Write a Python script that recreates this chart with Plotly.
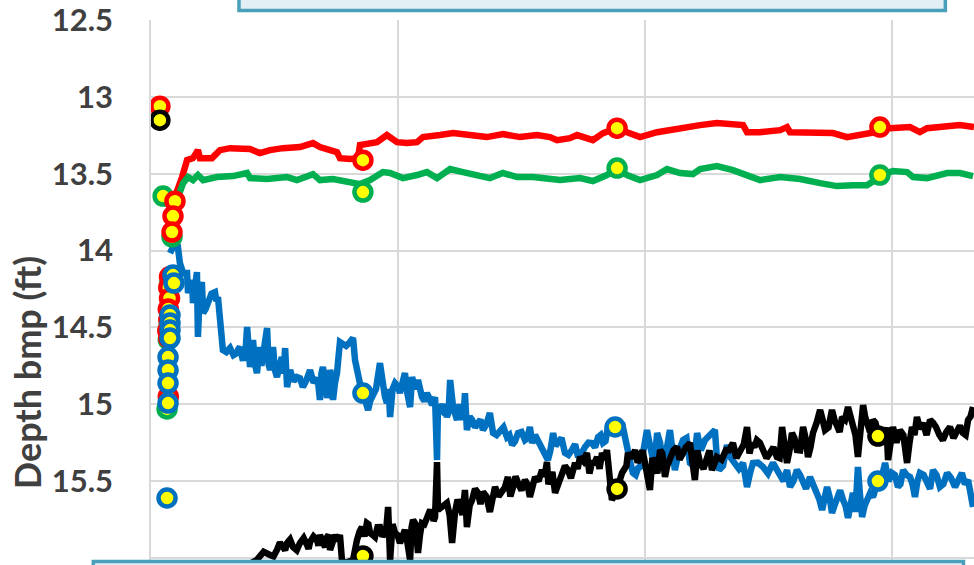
import plotly.graph_objects as go

# ---- depth readings (ft below measuring point) versus elapsed time (days) ----
red_x = [0.085, 0.101, 0.126, 0.146, 0.170, 0.190, 0.198, 0.247, 0.279, 0.320, 0.401, 0.441, 0.482,
         0.534, 0.603, 0.656, 0.684, 0.725, 0.753, 0.765, 0.806, 0.838, 0.846, 0.915, 0.955, 0.996,
         1.036, 1.077, 1.101, 1.170, 1.223, 1.291, 1.360, 1.425, 1.494, 1.563, 1.615, 1.644, 1.696,
         1.725, 1.789, 1.830, 1.887, 1.927, 1.980, 2.049, 2.089, 2.170, 2.223, 2.291, 2.356, 2.397,
         2.413, 2.466, 2.547, 2.575, 2.587, 2.668, 2.761, 2.818, 2.870, 2.931, 2.951, 2.992, 3.073,
         3.113, 3.142, 3.223, 3.275, 3.332]
red_y = [13.704, 13.639, 13.521, 13.411, 13.398, 13.346, 13.398, 13.398, 13.346, 13.333, 13.339, 13.365,
         13.346, 13.333, 13.326, 13.300, 13.326, 13.346, 13.359, 13.398, 13.404, 13.398, 13.313, 13.294,
         13.248, 13.294, 13.300, 13.294, 13.261, 13.248, 13.235, 13.248, 13.261, 13.242, 13.261, 13.248,
         13.261, 13.281, 13.268, 13.248, 13.281, 13.235, 13.203, 13.229, 13.261, 13.229, 13.216, 13.196,
         13.183, 13.170, 13.183, 13.183, 13.229, 13.229, 13.216, 13.196, 13.229, 13.229, 13.235, 13.261,
         13.248, 13.229, 13.196, 13.203, 13.196, 13.229, 13.203, 13.196, 13.183, 13.196]

green_x = [0.085, 0.105, 0.130, 0.150, 0.170, 0.190, 0.211, 0.267, 0.332, 0.389, 0.401, 0.470, 0.551,
           0.591, 0.656, 0.684, 0.737, 0.806, 0.846, 0.887, 0.939, 0.968, 1.020, 1.077, 1.117, 1.158,
           1.211, 1.263, 1.320, 1.372, 1.425, 1.482, 1.547, 1.603, 1.656, 1.737, 1.789, 1.846, 1.887,
           1.927, 1.980, 2.049, 2.089, 2.142, 2.194, 2.223, 2.291, 2.356, 2.425, 2.466, 2.547, 2.628,
           2.709, 2.777, 2.842, 2.899, 2.931, 2.951, 3.004, 3.061, 3.085, 3.142, 3.223, 3.275, 3.328]
green_y = [13.900, 13.671, 13.561, 13.521, 13.541, 13.508, 13.541, 13.521, 13.515, 13.495, 13.528, 13.534,
           13.521, 13.541, 13.502, 13.541, 13.534, 13.561, 13.567, 13.541, 13.489, 13.495, 13.528, 13.508,
           13.489, 13.528, 13.469, 13.489, 13.508, 13.528, 13.495, 13.521, 13.521, 13.528, 13.541, 13.528,
           13.547, 13.508, 13.463, 13.508, 13.541, 13.508, 13.469, 13.495, 13.502, 13.469, 13.450, 13.476,
           13.521, 13.541, 13.521, 13.534, 13.561, 13.580, 13.574, 13.574, 13.541, 13.508, 13.482, 13.489,
           13.521, 13.528, 13.495, 13.495, 13.515]

blue_x = [0.077, 0.089, 0.109, 0.117, 0.130, 0.146, 0.150, 0.166, 0.170, 0.186, 0.190, 0.198, 0.206,
          0.211, 0.231, 0.259, 0.271, 0.287, 0.291, 0.320, 0.348, 0.360, 0.381, 0.389, 0.401, 0.413,
          0.429, 0.441, 0.453, 0.470, 0.482, 0.494, 0.510, 0.530, 0.543, 0.551, 0.563, 0.591, 0.615,
          0.644, 0.672, 0.684, 0.696, 0.713, 0.725, 0.737, 0.753, 0.765, 0.777, 0.806, 0.818, 0.826,
          0.838, 0.858, 0.879, 0.895, 0.927, 0.939, 0.955, 0.968, 0.988, 1.008, 1.028, 1.049, 1.057,
          1.081, 1.097, 1.117, 1.138, 1.150, 1.158, 1.162, 1.178, 1.198, 1.211, 1.223, 1.239, 1.259,
          1.271, 1.279, 1.300, 1.324, 1.344, 1.372, 1.385, 1.413, 1.441, 1.462, 1.486, 1.514, 1.534,
          1.543, 1.567, 1.595, 1.607, 1.628, 1.648, 1.676, 1.704, 1.729, 1.757, 1.785, 1.810, 1.830,
          1.850, 1.879, 1.907, 1.919, 1.931, 1.951, 1.972, 1.980, 2.008, 2.028, 2.049, 2.073, 2.101,
          2.121, 2.154, 2.182, 2.211, 2.243, 2.283, 2.300, 2.332, 2.364, 2.397, 2.413, 2.437, 2.478,
          2.518, 2.547, 2.575, 2.587, 2.615, 2.640, 2.668, 2.696, 2.717, 2.737, 2.757, 2.777, 2.802,
          2.822, 2.842, 2.862, 2.879, 2.899, 2.923, 2.943, 2.972, 3.000, 3.024, 3.045, 3.073, 3.093,
          3.113, 3.142, 3.166, 3.194, 3.223, 3.255, 3.283, 3.308, 3.328]
blue_y = [14.016, 13.977, 13.977, 14.081, 14.146, 14.146, 14.276, 14.192, 14.341, 14.140, 14.562, 14.257,
          14.205, 14.406, 14.335, 14.270, 14.302, 14.562, 14.647, 14.634, 14.667, 14.628, 14.699, 14.497,
          14.758, 14.582, 14.797, 14.628, 14.693, 14.504, 14.777, 14.628, 14.823, 14.693, 14.634, 14.888,
          14.777, 14.823, 14.888, 14.777, 14.829, 14.972, 14.758, 14.959, 14.777, 14.972, 14.797, 14.595,
          14.602, 14.595, 14.569, 14.712, 14.823, 14.927, 15.037, 14.953, 14.732, 14.927, 14.992, 15.083,
          14.862, 14.927, 14.797, 15.018, 14.823, 14.842, 14.953, 14.927, 15.005, 14.953, 15.363, 15.005,
          15.037, 15.083, 14.842, 15.018, 15.102, 15.057, 14.927, 15.168, 15.102, 15.122, 15.168, 15.057,
          15.187, 15.168, 15.213, 15.265, 15.187, 15.233, 15.148, 15.252, 15.233, 15.317, 15.363, 15.187,
          15.252, 15.317, 15.298, 15.343, 15.278, 15.252, 15.213, 15.252, 15.148, 15.148, 15.122, 15.233,
          15.343, 15.447, 15.415, 15.408, 15.168, 15.343, 15.187, 15.382, 15.168, 15.428, 15.233, 15.382,
          15.187, 15.233, 15.168, 15.428, 15.265, 15.382, 15.382, 15.538, 15.382, 15.408, 15.382, 15.473,
          15.428, 15.538, 15.428, 15.512, 15.473, 15.577, 15.688, 15.538, 15.707, 15.603, 15.623, 15.740,
          15.577, 15.408, 15.734, 15.623, 15.603, 15.500, 15.382, 15.447, 15.538, 15.428, 15.473, 15.603,
          15.447, 15.512, 15.428, 15.538, 15.447, 15.538, 15.447, 15.493, 15.668]
# short-period fluctuation readings between the logged blue samples
blue_fx = [0.221, 0.245, 0.265, 0.279, 0.305, 0.334, 0.354, 0.370, 0.395, 0.407, 0.421, 0.435, 0.447,
           0.462, 0.476, 0.488, 0.502, 0.520, 0.537, 0.557, 0.577, 0.603, 0.630, 0.658, 0.678, 0.690,
           0.705, 0.719, 0.731, 0.745, 0.790, 0.848, 0.868, 0.887, 0.911, 0.947, 0.962, 0.978, 0.998,
           1.018, 1.038, 1.069, 1.089, 1.107, 1.127, 1.144, 1.188, 1.205, 1.217, 1.231, 1.249, 1.265,
           1.290, 1.312, 1.334, 1.358, 1.378, 1.399, 1.427, 1.451, 1.474, 1.500, 1.524, 1.555, 1.581,
           1.617, 1.638, 1.662, 1.690, 1.717, 1.743, 1.771, 1.798, 1.820, 1.840, 1.863, 1.893, 1.941,
           1.962, 1.994, 2.018, 2.038, 2.061, 2.087, 2.111, 2.138, 2.168, 2.196, 2.226, 2.263, 2.291,
           2.316, 2.348, 2.380, 2.425, 2.457, 2.498, 2.532, 2.561, 2.601, 2.628, 2.652, 2.682, 2.706,
           2.727, 2.747, 2.767, 2.790, 2.812, 2.832, 2.852, 2.870, 2.889, 2.911, 2.958, 2.986, 3.012,
           3.034, 3.059, 3.083, 3.103, 3.128, 3.154, 3.180, 3.208, 3.239, 3.269, 3.295, 3.318]
blue_fy = [14.38, 14.28, 14.33, 14.45, 14.66, 14.68, 14.64, 14.70, 14.72, 14.66, 14.74, 14.70, 14.75,
           14.62, 14.74, 14.70, 14.78, 14.75, 14.80, 14.80, 14.85, 14.83, 14.84, 14.86, 14.88, 14.80,
           14.85, 14.90, 14.82, 14.86, 14.62, 14.88, 14.98, 14.98, 14.90, 14.95, 14.90, 14.90, 14.88,
           14.85, 14.93, 14.90, 14.92, 14.98, 14.96, 14.98, 15.00, 15.05, 14.98, 15.06, 15.00, 15.10,
           15.08, 15.15, 15.10, 15.13, 15.12, 15.20, 15.15, 15.20, 15.24, 15.18, 15.22, 15.20, 15.28,
           15.30, 15.27, 15.22, 15.33, 15.26, 15.32, 15.25, 15.28, 15.20, 15.24, 15.12, 15.15, 15.38,
           15.46, 15.30, 15.25, 15.40, 15.25, 15.30, 15.35, 15.30, 15.22, 15.40, 15.30, 15.20, 15.35,
           15.40, 15.35, 15.42, 15.45, 15.38, 15.45, 15.42, 15.50, 15.50, 15.46, 15.55, 15.52, 15.62,
           15.58, 15.60, 15.66, 15.56, 15.66, 15.62, 15.70, 15.58, 15.66, 15.58, 15.48, 15.50, 15.46,
           15.52, 15.46, 15.52, 15.50, 15.46, 15.55, 15.46, 15.52, 15.48, 15.50, 15.52, 15.58]

black_x = [0.198, 0.320, 0.429, 0.482, 0.510, 0.534, 0.551, 0.575, 0.603, 0.632, 0.644, 0.672, 0.684,
           0.696, 0.713, 0.725, 0.745, 0.765, 0.773, 0.818, 0.834, 0.854, 0.874, 0.887, 0.907, 0.927,
           0.947, 0.960, 0.968, 0.988, 1.008, 1.028, 1.049, 1.061, 1.081, 1.097, 1.117, 1.138, 1.150,
           1.158, 1.162, 1.182, 1.198, 1.219, 1.231, 1.251, 1.271, 1.279, 1.300, 1.324, 1.344, 1.372,
           1.393, 1.421, 1.445, 1.466, 1.486, 1.514, 1.534, 1.555, 1.583, 1.603, 1.615, 1.636, 1.664,
           1.688, 1.717, 1.737, 1.765, 1.785, 1.806, 1.826, 1.846, 1.858, 1.866, 1.887, 1.907, 1.931,
           1.960, 1.980, 2.000, 2.020, 2.040, 2.061, 2.081, 2.101, 2.130, 2.154, 2.182, 2.202, 2.223,
           2.251, 2.271, 2.291, 2.328, 2.356, 2.385, 2.413, 2.433, 2.453, 2.478, 2.506, 2.534, 2.555,
           2.575, 2.595, 2.615, 2.640, 2.660, 2.680, 2.709, 2.729, 2.757, 2.777, 2.798, 2.822, 2.842,
           2.862, 2.883, 2.899, 2.923, 2.943, 2.972, 2.984, 3.004, 3.032, 3.061, 3.081, 3.101, 3.126,
           3.154, 3.178, 3.206, 3.235, 3.263, 3.287, 3.308, 3.328]
black_y = [16.274, 16.111, 16.013, 15.981, 15.948, 15.929, 15.903, 15.929, 15.903, 15.916, 15.896, 15.883,
           15.851, 15.903, 15.864, 15.948, 15.851, 15.851, 16.013, 16.013, 15.883, 15.799, 15.773, 15.838,
           15.864, 15.799, 15.838, 15.668, 16.013, 15.838, 15.903, 15.818, 16.013, 15.753, 15.968, 15.773,
           15.734, 15.701, 15.734, 15.376, 15.688, 15.668, 15.642, 15.903, 15.701, 15.668, 15.558, 15.799,
           15.623, 15.577, 15.571, 15.701, 15.538, 15.558, 15.473, 15.538, 15.512, 15.493, 15.603, 15.473,
           15.428, 15.376, 15.473, 15.577, 15.473, 15.428, 15.382, 15.343, 15.317, 15.382, 15.343, 15.317,
           15.298, 15.577, 15.623, 15.551, 15.447, 15.317, 15.298, 15.343, 15.382, 15.558, 15.382, 15.298,
           15.473, 15.343, 15.278, 15.317, 15.252, 15.493, 15.382, 15.343, 15.428, 15.343, 15.298, 15.252,
           15.298, 15.148, 15.252, 15.233, 15.298, 15.317, 15.343, 15.148, 15.382, 15.187, 15.298, 15.148,
           15.343, 15.187, 15.037, 15.168, 15.037, 15.148, 15.083, 15.018, 15.122, 15.343, 15.005, 15.122,
           15.102, 15.187, 15.213, 15.363, 15.148, 15.168, 15.382, 15.148, 15.083, 15.122, 15.102, 15.148,
           15.233, 15.148, 15.168, 15.187, 15.102, 15.018]
# short-period fluctuation readings between the logged black samples
black_fx = [0.456, 0.496, 0.522, 0.543, 0.563, 0.590, 0.618, 0.638, 0.658, 0.678, 0.690, 0.705, 0.719,
            0.735, 0.755, 0.790, 0.826, 0.844, 0.864, 0.880, 0.897, 0.917, 0.937, 0.953, 0.978, 0.998,
            1.018, 1.038, 1.055, 1.071, 1.089, 1.107, 1.127, 1.144, 1.209, 1.241, 1.261, 1.290, 1.312,
            1.334, 1.358, 1.382, 1.407, 1.433, 1.455, 1.476, 1.500, 1.524, 1.545, 1.569, 1.593, 1.609,
            1.625, 1.650, 1.676, 1.700, 1.727, 1.751, 1.775, 1.796, 1.816, 1.836, 1.852, 1.925, 1.945,
            1.970, 1.990, 2.010, 2.030, 2.050, 2.070, 2.090, 2.115, 2.140, 2.165, 2.192, 2.212, 2.237,
            2.261, 2.281, 2.310, 2.340, 2.370, 2.400, 2.423, 2.443, 2.465, 2.492, 2.520, 2.545, 2.565,
            2.585, 2.605, 2.628, 2.650, 2.670, 2.695, 2.719, 2.743, 2.767, 2.788, 2.810, 2.832, 2.852,
            2.873, 2.891, 2.911, 2.933, 2.958, 2.978, 2.994, 3.018, 3.046, 3.071, 3.091, 3.113, 3.140,
            3.166, 3.192, 3.220, 3.249, 3.275, 3.298, 3.318]
black_fy = [15.96, 15.99, 15.90, 15.95, 15.88, 15.95, 15.87, 15.94, 15.86, 15.92, 15.87, 15.93, 15.85,
            15.90, 15.89, 16.03, 15.92, 15.83, 15.86, 15.78, 15.85, 15.80, 15.86, 15.80, 15.78, 15.85,
            15.86, 15.90, 15.80, 15.78, 15.85, 15.78, 15.70, 15.76, 15.72, 15.62, 15.72, 15.66, 15.55,
            15.65, 15.60, 15.62, 15.60, 15.54, 15.60, 15.47, 15.56, 15.52, 15.55, 15.50, 15.47, 15.52,
            15.44, 15.52, 15.40, 15.48, 15.42, 15.37, 15.45, 15.38, 15.42, 15.36, 15.40, 15.40, 15.35,
            15.38, 15.30, 15.45, 15.35, 15.45, 15.32, 15.40, 15.30, 15.36, 15.28, 15.38, 15.30, 15.42,
            15.30, 15.38, 15.36, 15.30, 15.35, 15.26, 15.32, 15.28, 15.25, 15.35, 15.28, 15.35, 15.25,
            15.30, 15.22, 15.30, 15.22, 15.28, 15.12, 15.10, 15.15, 15.10, 15.18, 15.10, 15.08, 15.20,
            15.15, 15.08, 15.18, 15.12, 15.25, 15.15, 15.22, 15.25, 15.20, 15.25, 15.20, 15.16, 15.20,
            15.12, 15.20, 15.18, 15.22, 15.14, 15.20, 15.08]

# ---- individual manual soundings ----
red_pts_x = [0.036, 0.097, 0.089, 0.085, 0.075, 0.072, 0.075, 0.070, 0.072, 0.068, 0.072, 0.070, 0.858,
             1.887, 2.951]
red_pts_y = [13.060, 13.678, 13.775, 13.879, 14.170, 14.240, 14.310, 14.380, 14.450, 14.520, 14.570,
             14.950, 13.411, 13.203, 13.196]

green_pts_x = [0.049, 0.085, 0.075, 0.072, 0.070, 0.065, 0.858, 1.887, 2.951]
green_pts_y = [13.645, 13.910, 14.220, 14.500, 14.580, 15.030, 13.619, 13.463, 13.508]

blue_pts_x = [0.089, 0.093, 0.077, 0.077, 0.077, 0.077, 0.069, 0.069, 0.069, 0.069, 0.065, 0.858, 1.879,
              2.943]
blue_pts_y = [14.159, 14.211, 14.419, 14.471, 14.517, 14.569, 14.693, 14.777, 14.862, 14.992, 15.610,
              14.927, 15.148, 15.500]

black_pts_x = [0.036, 0.858, 1.887, 2.943]
black_pts_y = [13.151, 15.987, 15.551, 15.207]

tick_vals = [12.5, 13.0, 13.5, 14.0, 14.5, 15.0, 15.5, 16.0]
tick_text = ["12.5", "13", "13.5", "14", "14.5", "15", "15.5", "16"]

RED, GREEN, BLUE, BLACK, YELLOW = "#ff0000", "#00b050", "#0070c0", "#000000", "#ffff00"
TEXT = "#404040"
GRID = "#d9d9d9"


def merged(xs, ys, fx, fy):
    """Interleave the logged samples with the fluctuation readings in time order."""
    pairs = sorted(zip(list(xs) + list(fx), list(ys) + list(fy)))
    return [p[0] for p in pairs], [p[1] for p in pairs]


blue_all_x, blue_all_y = merged(blue_x, blue_y, blue_fx, blue_fy)
black_all_x, black_all_y = merged(black_x, black_y, black_fx, black_fy)

fig = go.Figure()

for xs, ys, col, w in [(red_x, red_y, RED, 6.5), (green_x, green_y, GREEN, 6.5),
                       (blue_all_x, blue_all_y, BLUE, 6.5), (black_all_x, black_all_y, BLACK, 6.5)]:
    fig.add_trace(go.Scatter(x=xs, y=ys, mode="lines",
                             line=dict(color=col, width=w, shape="linear"),
                             showlegend=False, hoverinfo="skip"))

for xs, ys, col in [(green_pts_x, green_pts_y, GREEN), (red_pts_x, red_pts_y, RED),
                    (blue_pts_x, blue_pts_y, BLUE), (black_pts_x, black_pts_y, BLACK)]:
    fig.add_trace(go.Scatter(x=xs, y=ys, mode="markers",
                             marker=dict(symbol="circle", size=17, color=YELLOW,
                                         line=dict(color=col, width=4.5)),
                             showlegend=False, hoverinfo="skip"))

fig.update_layout(
    width=974, height=565,
    margin=dict(l=151, r=0, t=20, b=0),
    paper_bgcolor="white", plot_bgcolor="white",
    font=dict(family="Lato, sans-serif", color=TEXT),
    xaxis=dict(range=[0, 3.332], dtick=1, tick0=0, showgrid=True, gridcolor=GRID, gridwidth=1.5,
               zeroline=False, showticklabels=False, ticks="", showline=False),
    yaxis=dict(range=[16.046, 12.499], tickvals=tick_vals, ticktext=tick_text,
               showgrid=True, gridcolor=GRID, gridwidth=1.5, zeroline=False,
               showline=True, linecolor=GRID, linewidth=1.5, ticks="",
               ticklabelstandoff=30,
               tickfont=dict(family="Lato, sans-serif", size=31, color=TEXT, weight="bold")),
    shapes=[
        dict(type="rect", xref="paper", yref="paper", x0=0.1069, x1=0.9652, y0=1.0174, y1=1.3,
             fillcolor="#e2eff5", line=dict(color="#4a9fba", width=3.5), layer="above"),
        dict(type="rect", xref="paper", yref="paper", x0=-0.0701, x1=0.9872, y0=-0.3, y1=0.0064,
             fillcolor="#e2eff5", line=dict(color="#4a9fba", width=3.5), layer="above"),
    ],
    annotations=[
        dict(text="<b>Depth bmp (ft)</b>", xref="paper", yref="paper", x=-0.1506, y=0.352,
             xanchor="center", yanchor="middle", textangle=-90, showarrow=False,
             font=dict(family="Lato, sans-serif", size=36, color=TEXT)),
    ],
)

fig.write_html("out.html")
